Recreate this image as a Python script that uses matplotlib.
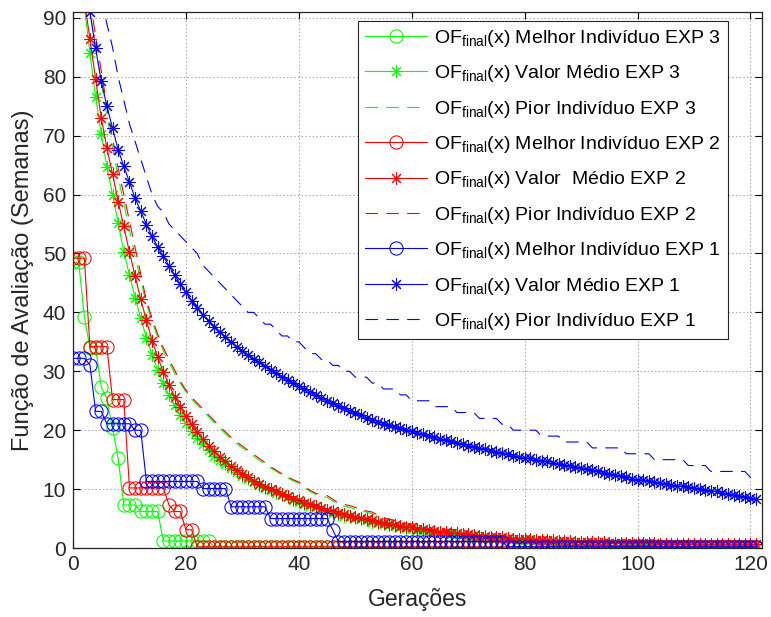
import matplotlib
matplotlib.use("Agg")
import matplotlib.pyplot as plt

plt.rcParams["font.family"] = ["Liberation Sans", "DejaVu Sans"]
plt.rcParams["mathtext.fontset"] = "custom"
plt.rcParams["mathtext.rm"] = "Liberation Sans"
plt.rcParams["mathtext.it"] = "Liberation Sans"
plt.rcParams["mathtext.default"] = "regular"
plt.rcParams["lines.scale_dashes"] = False

generations = list(range(122))

# best individual: (value, number of generations) read as steps
best_exp3_steps = [(48.5, 2), (39.3, 1), (34.0, 2), (27.3, 1), (25.4, 1), (20.3, 1), (15.2, 1),
                   (7.3, 3), (6.2, 4), (1.2, 9), (0.2, 97)]
best_exp2_steps = [(49.2, 3), (34.2, 4), (25.2, 3), (10.2, 7), (7.3, 1), (6.2, 2), (3.1, 2), (0.2, 100)]
best_exp1_steps = [(32.2, 3), (31.1, 1), (23.2, 2), (21.1, 5), (20.0, 2), (11.3, 10), (10.1, 5),
                   (7.0, 7), (5.0, 11), (3.1, 1), (1.1, 30), (0.2, 45)]

mean_exp3 = [108, 100, 92, 84.0, 76.6, 70.3, 64.7, 60.0, 55.2, 50.3, 46.3, 42.5, 39.0, 35.7, 32.8, 30.2,
             28.0, 26.0, 24.2, 22.6, 21.2, 19.9, 18.7, 17.6, 16.6, 15.7, 14.9, 14.2, 13.5, 12.9, 12.3,
             11.7, 11.2, 10.7, 10.2, 9.8, 9.4, 9.0, 8.6, 8.2, 7.8, 7.5, 7.2, 6.9, 6.6, 6.3, 6.0, 5.8,
             5.5, 5.3, 5.1, 4.9, 4.7, 4.5, 4.3, 4.1, 3.9, 3.7, 3.5, 3.4, 3.2, 3.1, 2.9, 2.8, 2.7, 2.6,
             2.5, 2.4, 2.3, 2.2, 2.1, 2.0, 1.9, 1.8, 1.7, 1.7, 1.6, 1.5, 1.5, 1.4, 1.4, 1.3, 1.3, 1.2,
             1.2, 1.1, 1.1, 1.1, 1.0, 1.0, 1.0, 0.9, 0.9, 0.9, 0.9, 0.8, 0.8, 0.8, 0.8, 0.7, 0.7, 0.7,
             0.7, 0.7, 0.6, 0.6, 0.6, 0.6, 0.6, 0.6, 0.6, 0.5, 0.5, 0.5, 0.5, 0.5, 0.5, 0.5, 0.5, 0.5,
             0.5, 0.5]
worst_exp3 = [110, 102, 96, 91, 85, 79, 73.5, 68, 63, 58.5, 54, 49.5, 45.5, 41.5, 38.5, 35.8, 33.5,
              31.5, 29.7, 28.0, 26.5, 25.3, 24.3, 23.3, 22.3, 21.3, 20.3, 19.4, 18.5, 17.7, 17.0, 16.3,
              15.6, 14.9, 14.2, 13.6, 13.0, 12.4, 11.9, 11.4, 11.0, 10.2, 9.6, 9.1, 8.8, 8.6, 8.0, 7.4,
              7.1, 6.9, 6.6, 6.3, 6.1, 5.8, 5.3, 4.9, 4.7, 4.4, 4.1, 3.9, 3.8, 3.7, 3.3, 3.1, 3.1, 3.1,
              3.1, 3.0, 2.8, 2.5, 2.2, 2.0, 1.8, 1.6, 1.5, 1.4, 1.3, 1.2, 1.1, 1.1, 1.0, 1.0, 1.0, 1.0,
              1.0, 1.0, 1.0, 1.0, 0.9, 0.9, 0.9, 0.9, 0.9, 0.9, 0.9, 0.9, 0.9, 0.9, 0.9, 0.8, 0.8, 0.8,
              0.8, 0.8, 0.8, 0.8, 0.8, 0.8, 0.8, 0.8, 0.8, 0.8, 0.8, 0.8, 0.8, 0.8, 0.8, 0.8, 0.8, 0.8,
              0.8, 0.8]
mean_exp2 = [110, 101, 93, 86.4, 79.6, 73.0, 67.9, 63.5, 58.8, 54.6, 50.2, 46.2, 42.2, 38.7, 35.2,
             32.4, 29.9, 27.7, 25.7, 24.0, 22.4, 21.0, 19.7, 18.5, 17.4, 16.4, 15.5, 14.7, 13.9, 13.2,
             12.6, 12.0, 11.4, 10.9, 10.4, 10.0, 9.6, 9.2, 8.8, 8.4, 8.1, 7.7, 7.4, 7.1, 6.8, 6.5, 6.2,
             6.0, 5.7, 5.5, 5.3, 5.1, 4.9, 4.7, 4.5, 4.3, 4.1, 3.9, 3.8, 3.6, 3.5, 3.3, 3.2, 3.0, 2.9,
             2.8, 2.7, 2.6, 2.5, 2.4, 2.3, 2.2, 2.1, 2.0, 1.9, 1.8, 1.8, 1.7, 1.6, 1.6, 1.5, 1.5, 1.4,
             1.4, 1.3, 1.3, 1.2, 1.2, 1.2, 1.1, 1.1, 1.1, 1.0, 1.0, 1.0, 0.9, 0.9, 0.9, 0.9, 0.8, 0.8,
             0.8, 0.8, 0.8, 0.7, 0.7, 0.7, 0.7, 0.7, 0.7, 0.7, 0.6, 0.6, 0.6, 0.6, 0.6, 0.6, 0.6, 0.6,
             0.6, 0.6, 0.6]
worst_exp2 = [112, 104, 98, 93, 87, 81, 75, 69.5, 64.5, 60, 55.5, 51, 46.5, 42, 39, 36.3, 34, 32,
              30.2, 28.3, 26.8, 25.6, 24.6, 23.6, 22.6, 21.6, 20.6, 19.7, 18.8, 18.0, 17.3, 16.6,
              15.9, 15.2, 14.5, 13.8, 13.2, 12.6, 12.1, 11.6, 11.2, 10.4, 9.8, 9.3, 9.0, 8.9, 8.3,
              7.6, 7.4, 7.2, 6.9, 6.5, 6.3, 6.1, 5.6, 5.1, 4.9, 4.7, 4.3, 4.1, 4.1, 4.0, 3.6, 3.2,
              3.1, 3.1, 3.1, 3.1, 3.1, 3.0, 2.3, 2.1, 1.9, 1.7, 1.6, 1.5, 1.4, 1.3, 1.2, 1.2, 1.1,
              1.1, 1.1, 1.0, 1.0, 1.0, 1.0, 1.0, 1.0, 1.0, 1.0, 1.0, 1.0, 1.0, 1.0, 1.0, 1.0, 1.0,
              1.0, 1.0, 1.0, 1.0, 1.0, 1.0, 1.0, 1.0, 1.0, 1.0, 1.0, 1.0, 1.0, 1.0, 1.0, 1.0, 1.0,
              1.0, 1.0, 1.0, 1.0, 1.0, 1.0, 1.0]
mean_exp1 = [118, 108, 99, 91.0, 84.8, 79.3, 75.0, 71.3, 67.6, 64.8, 62.1, 59.4, 57.2, 54.9, 52.9,
             51.1, 49.5, 47.9, 46.3, 44.8, 43.4, 42.0, 40.8, 39.6, 38.5, 37.5, 36.6, 35.8, 35.0, 34.2,
             33.5, 32.8, 32.1, 31.5, 30.9, 30.3, 29.7, 29.1, 28.6, 28.0, 27.5, 27.0, 26.5, 26.0, 25.5,
             25.0, 24.6, 24.1, 23.7, 23.3, 22.9, 22.5, 22.1, 21.8, 21.4, 21.1, 20.8, 20.6, 20.3, 20.0,
             19.8, 19.5, 19.3, 19.0, 18.8, 18.5, 18.3, 18.1, 17.8, 17.6, 17.4, 17.2, 17.0, 16.8, 16.5,
             16.3, 16.1, 15.9, 15.7, 15.5, 15.3, 15.2, 15.0, 14.8, 14.7, 14.5, 14.3, 14.1, 13.9, 13.8,
             13.6, 13.4, 13.2, 13.0, 12.8, 12.6, 12.4, 12.2, 12.0, 11.8, 11.6, 11.5, 11.3, 11.2, 11.0,
             10.9, 10.7, 10.6, 10.5, 10.3, 10.2, 10.0, 9.9, 9.7, 9.6, 9.4, 9.2, 9.0, 8.9, 8.7, 8.5,
             8.3]
worst_exp1 = [125, 115, 107, 101, 96, 93, 89, 85, 80, 76, 72, 69, 66, 63, 60, 58, 57, 55, 54, 53, 52,
              51, 50, 48, 47, 46, 45, 44, 43, 42, 41, 40, 40, 39, 38, 38, 37, 36, 36, 35, 35, 34, 33,
              33, 32, 32, 31, 31, 30, 30, 29, 29, 29, 28, 28, 27, 27, 27, 26, 26, 25, 25, 25, 25, 24,
              24, 24, 24, 23, 23, 23, 23, 22, 22, 22, 22, 21, 21, 20, 20, 20, 20, 20, 19, 19, 19, 19,
              18, 18, 18, 18, 18, 17, 17, 17, 17, 17, 17, 16, 16, 16, 16, 16, 15, 15, 15, 15, 15, 15,
              14, 14, 14, 14, 13, 13, 13, 13, 13, 13, 13, 12, 12]

labels = [
    "OF$_{final}$(x) Melhor Indivíduo EXP 3",
    "OF$_{final}$(x) Valor Médio EXP 3",
    "OF$_{final}$(x) Pior Indivíduo EXP 3",
    "OF$_{final}$(x) Melhor Indivíduo EXP 2",
    "OF$_{final}$(x) Valor  Médio EXP 2",
    "OF$_{final}$(x) Pior Indivíduo EXP 2",
    "OF$_{final}$(x) Melhor Indivíduo EXP 1",
    "OF$_{final}$(x) Valor Médio EXP 1",
    "OF$_{final}$(x) Pior Indivíduo EXP 1",
]


def expand(steps):
    vals = []
    for v, n in steps:
        vals += [v] * n
    return vals


asterisk = (8, 2, 0)
series = [
    (expand(best_exp3_steps), "#00ff00", "best"), (mean_exp3, "#00ff00", "mean"), (worst_exp3, "#00ff00", "worst"),
    (expand(best_exp2_steps), "#ff0000", "best"), (mean_exp2, "#ff0000", "mean"), (worst_exp2, "#ff0000", "worst"),
    (expand(best_exp1_steps), "#0000ff", "best"), (mean_exp1, "#0000ff", "mean"), (worst_exp1, "#0000ff", "worst"),
]

fig = plt.figure(figsize=(7.71, 6.17), dpi=100)
ax = fig.add_axes([0.0947, 0.1118, 0.8933, 0.8688])

for (vals, color, kind), label in zip(series, labels):
    if kind == "best":
        ax.plot(generations, vals, "-", color=color, lw=0.8, marker="o", ms=9.5,
                mfc="none", mec=color, mew=0.75, label=label)
    elif kind == "mean":
        ax.plot(generations, vals, "-", color=color, lw=0.8, marker=asterisk, ms=9,
                mec=color, mew=0.75, label=label)
    else:
        ax.plot(generations, vals, color=color, lw=0.8, dashes=(9, 6), label=label)

ax.set_xlim(0, 122)
ax.set_ylim(0, 91)
ax.set_xticks(range(0, 121, 20))
ax.set_yticks(range(0, 91, 10))
ax.tick_params(direction="in", length=5, width=0.8, labelsize=15, top=True, right=True, pad=5,
               labelcolor="#262626")
ax.grid(True, linestyle=":", color="#a8a8a8", lw=0.8)
for s in ax.spines.values():
    s.set_linewidth(0.9)
    s.set_color("#262626")

ax.set_xlabel("Gerações", fontsize=16.5, color="#262626", labelpad=10)
ax.set_ylabel("Função de Avaliação (Semanas)", fontsize=17, color="#262626", labelpad=6)

leg = ax.legend(loc="upper right", bbox_to_anchor=(0.951, 0.983), borderaxespad=0,
                fontsize=14, handlelength=3.2, labelspacing=0.74, fancybox=False,
                edgecolor="#262626", framealpha=1, borderpad=0.35, handletextpad=0.36)
leg.get_frame().set_linewidth(0.8)

fig.savefig("out.png", dpi=100)
